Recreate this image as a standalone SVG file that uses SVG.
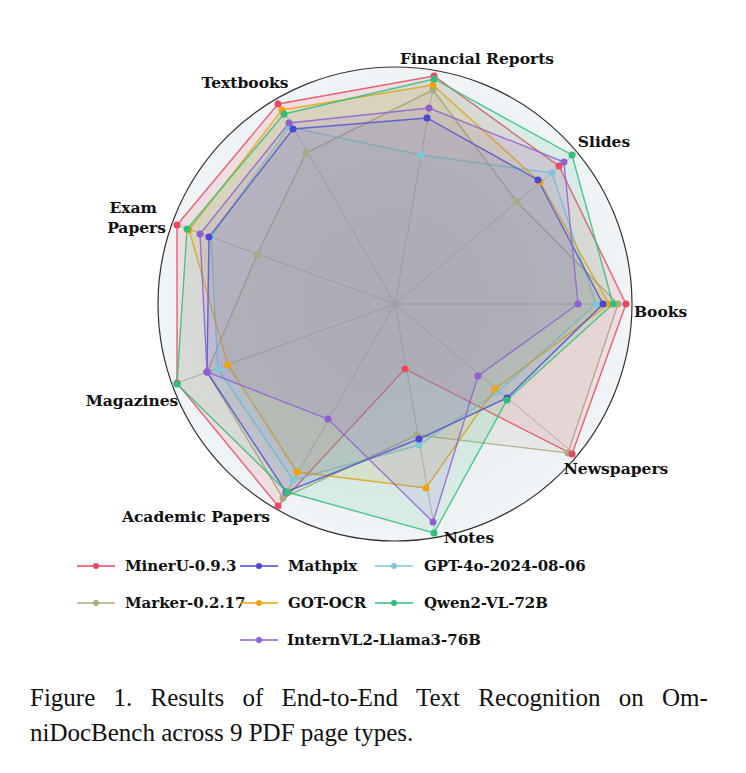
<svg xmlns="http://www.w3.org/2000/svg" width="746" height="773" viewBox="0 0 746 773">
<style>
.lbl{font-family:"DejaVu Serif",serif;font-weight:bold;font-size:15.5px;fill:#111}
.leg{font-family:"DejaVu Serif",serif;font-weight:bold;font-size:15px;fill:#111}
.cap{font-family:"Liberation Serif",serif;font-size:25px;fill:#111}
.spoke{stroke:#b8b8b8;stroke-width:1}
.s{fill-opacity:0.12;stroke-width:1.4;stroke-opacity:0.85}
</style>
<rect width="746" height="773" fill="#fff"/>
<defs>
<radialGradient id="bg"><stop offset="0" stop-color="#e3e6ea"/><stop offset="1" stop-color="#f1f4f6"/></radialGradient>
</defs>
<g id="axes">
<circle cx="395" cy="304" r="237" fill="url(#bg)" stroke="#333" stroke-width="1.2"/>
<g class="spoke">
<line x1="395" y1="304" x2="632" y2="304"/><line x1="395" y1="304" x2="577" y2="152"/><line x1="395" y1="304" x2="436" y2="71"/><line x1="395" y1="304" x2="277" y2="99"/><line x1="395" y1="304" x2="172" y2="223"/><line x1="395" y1="304" x2="172" y2="385"/><line x1="395" y1="304" x2="277" y2="509"/><line x1="395" y1="304" x2="436" y2="537"/><line x1="395" y1="304" x2="577" y2="456"/>
</g>
</g>
<g id="connectors">
<g id="marker"><polygon class="s" fill="#a8ab80" stroke="#a8ab80" points="618,304 517,202 433,90 306,153 257,255 207,372 283,498 417,435 568,453"/></g>
<g id="minerU"><polygon class="s" fill="#e8495d" stroke="#e8495d" points="626,304 559,166 434,76 278,104 177,225 177,383 278,506 405,369 572,454"/></g>
<g id="gpt4o"><polygon class="s" fill="#7cc8d8" stroke="#7cc8d8" points="596,304 552,173 421,155 289,127 211,237 218,369 293,480 419,445 498,392"/></g>
<g id="gotocr"><polygon class="s" fill="#f0a20f" stroke="#f0a20f" points="609,304 540,182 433,85 282,110 189,230 228,365 297,472 426,488 495,389"/></g>
<g id="mathpix"><polygon class="s" fill="#4b45d8" stroke="#4b45d8" points="603,304 538,180 427,118 293,129 209,237 207,372 286,492 419,439 507,398"/></g>
<g id="qwen"><polygon class="s" fill="#2fbf7a" stroke="#2fbf7a" points="613,304 572,155 434,79 284,114 187,229 177,384 287,492 434,533 507,400"/></g>
<g id="intern"><polygon class="s" fill="#9060d0" stroke="#9060d0" points="578,304 564,162 429,108 289,123 200,234 207,372 328,419 433,522 478,376"/></g>
</g>
<g id="points">
<g fill="#a8ab80"><circle cx="618" cy="304" r="3.5"/><circle cx="517" cy="202" r="3.5"/><circle cx="433" cy="90" r="3.5"/><circle cx="306" cy="153" r="3.5"/><circle cx="257" cy="255" r="3.5"/><circle cx="207" cy="372" r="3.5"/><circle cx="283" cy="498" r="3.5"/><circle cx="417" cy="435" r="3.5"/><circle cx="568" cy="453" r="3.5"/></g>
<g fill="#e8495d"><circle cx="626" cy="304" r="3.5"/><circle cx="559" cy="166" r="3.5"/><circle cx="434" cy="76" r="3.5"/><circle cx="278" cy="104" r="3.5"/><circle cx="177" cy="225" r="3.5"/><circle cx="177" cy="383" r="3.5"/><circle cx="278" cy="506" r="3.5"/><circle cx="405" cy="369" r="3.5"/><circle cx="572" cy="454" r="3.5"/></g>
<g fill="#7cc8d8"><circle cx="596" cy="304" r="3.5"/><circle cx="552" cy="173" r="3.5"/><circle cx="421" cy="155" r="3.5"/><circle cx="289" cy="127" r="3.5"/><circle cx="211" cy="237" r="3.5"/><circle cx="218" cy="369" r="3.5"/><circle cx="293" cy="480" r="3.5"/><circle cx="419" cy="445" r="3.5"/><circle cx="498" cy="392" r="3.5"/></g>
<g fill="#f0a20f"><circle cx="609" cy="304" r="3.5"/><circle cx="540" cy="182" r="3.5"/><circle cx="433" cy="85" r="3.5"/><circle cx="282" cy="110" r="3.5"/><circle cx="189" cy="230" r="3.5"/><circle cx="228" cy="365" r="3.5"/><circle cx="297" cy="472" r="3.5"/><circle cx="426" cy="488" r="3.5"/><circle cx="495" cy="389" r="3.5"/></g>
<g fill="#4b45d8"><circle cx="603" cy="304" r="3.5"/><circle cx="538" cy="180" r="3.5"/><circle cx="427" cy="118" r="3.5"/><circle cx="293" cy="129" r="3.5"/><circle cx="209" cy="237" r="3.5"/><circle cx="207" cy="372" r="3.5"/><circle cx="286" cy="492" r="3.5"/><circle cx="419" cy="439" r="3.5"/><circle cx="507" cy="398" r="3.5"/></g>
<g fill="#2fbf7a"><circle cx="613" cy="304" r="3.5"/><circle cx="572" cy="155" r="3.5"/><circle cx="434" cy="79" r="3.5"/><circle cx="284" cy="114" r="3.5"/><circle cx="187" cy="229" r="3.5"/><circle cx="177" cy="384" r="3.5"/><circle cx="287" cy="492" r="3.5"/><circle cx="434" cy="533" r="3.5"/><circle cx="507" cy="400" r="3.5"/></g>
<g fill="#9060d0"><circle cx="578" cy="304" r="3.5"/><circle cx="564" cy="162" r="3.5"/><circle cx="429" cy="108" r="3.5"/><circle cx="289" cy="123" r="3.5"/><circle cx="200" cy="234" r="3.5"/><circle cx="207" cy="372" r="3.5"/><circle cx="328" cy="419" r="3.5"/><circle cx="433" cy="522" r="3.5"/><circle cx="478" cy="376" r="3.5"/></g>
</g>
<g id="labels">
<text class="lbl" x="477" y="64" text-anchor="middle">Financial Reports</text>
<text class="lbl" x="245" y="88" text-anchor="middle">Textbooks</text>
<text class="lbl" x="604" y="147" text-anchor="middle">Slides</text>
<text class="lbl" x="157" y="213" text-anchor="end">Exam</text>
<text class="lbl" x="166" y="233" text-anchor="end">Papers</text>
<text class="lbl" x="634" y="317">Books</text>
<text class="lbl" x="132" y="406" text-anchor="middle">Magazines</text>
<text class="lbl" x="616" y="474" text-anchor="middle">Newspapers</text>
<text class="lbl" x="196" y="522" text-anchor="middle">Academic Papers</text>
<text class="lbl" x="469" y="543" text-anchor="middle">Notes</text>
</g>
<g id="legend">
<line x1="77" y1="566" x2="115" y2="566" stroke="#e8495d" stroke-width="1.5"/><circle cx="96" cy="566" r="3" fill="#e8495d"/><text class="leg" x="125" y="571">MinerU-0.9.3</text>
<line x1="240" y1="566" x2="278" y2="566" stroke="#4b45d8" stroke-width="1.5"/><circle cx="259" cy="566" r="3" fill="#4b45d8"/><text class="leg" x="288" y="571">Mathpix</text>
<line x1="375" y1="566" x2="413" y2="566" stroke="#7cc8d8" stroke-width="1.5"/><circle cx="394" cy="566" r="3" fill="#7cc8d8"/><text class="leg" x="424" y="571">GPT-4o-2024-08-06</text>
<line x1="77" y1="603" x2="115" y2="603" stroke="#a8ab80" stroke-width="1.5"/><circle cx="96" cy="603" r="3" fill="#a8ab80"/><text class="leg" x="125" y="608">Marker-0.2.17</text>
<line x1="240" y1="603" x2="278" y2="603" stroke="#f0a20f" stroke-width="1.5"/><circle cx="259" cy="603" r="3" fill="#f0a20f"/><text class="leg" x="288" y="608">GOT-OCR</text>
<line x1="375" y1="603" x2="413" y2="603" stroke="#2fbf7a" stroke-width="1.5"/><circle cx="394" cy="603" r="3" fill="#2fbf7a"/><text class="leg" x="424" y="608">Qwen2-VL-72B</text>
<line x1="240" y1="640" x2="278" y2="640" stroke="#9060d0" stroke-width="1.5"/><circle cx="259" cy="640" r="3" fill="#9060d0"/><text class="leg" x="287" y="645">InternVL2-Llama3-76B</text>
</g>
<g id="caption">
<text class="cap" x="30" y="706" word-spacing="12">Figure 1.  Results of End-to-End Text Recognition on Om-</text>
<text class="cap" x="30" y="741">niDocBench across 9 PDF page types.</text>
</g>
</svg>
